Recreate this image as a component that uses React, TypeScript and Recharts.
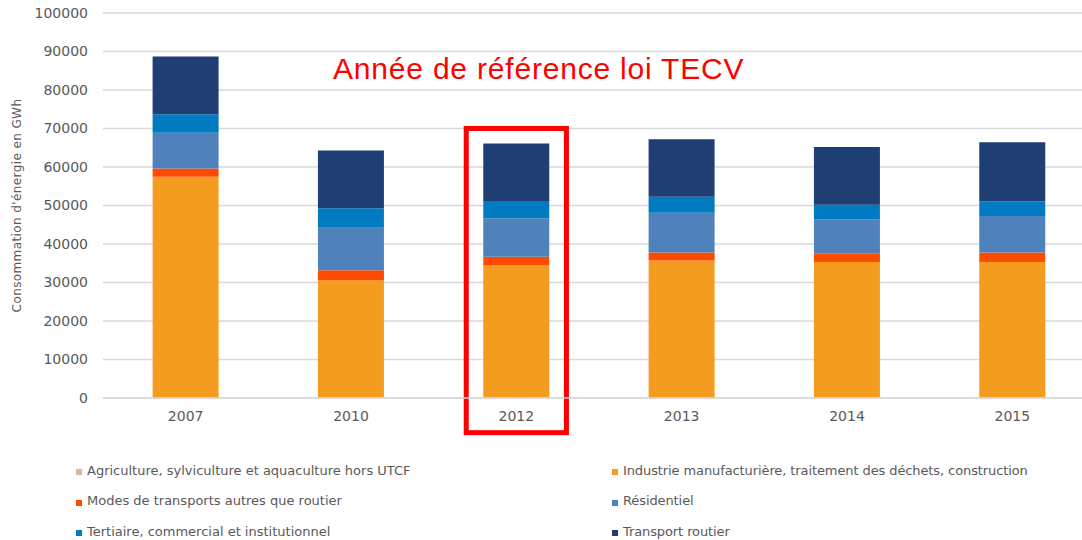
/**
 * Consommation d'énergie par secteur (GWh), barres empilées
 */
import { BarChart, Bar, XAxis, YAxis, CartesianGrid, ReferenceArea, Label } from 'recharts';

const years = ['2007', '2010', '2012', '2013', '2014', '2015'];
const agriculture = [100, 100, 100, 100, 100, 100];
const industrie = [57400, 30500, 34300, 35600, 35200, 35200];
const autresTransports = [2100, 2600, 2300, 2100, 2200, 2500];
const residentiel = [9300, 11000, 10000, 10300, 8900, 9500];
const tertiaire = [4800, 5100, 4500, 4200, 3800, 3800];
const routier = [15000, 15000, 14900, 14900, 15000, 15300];
const yTicks = [0, 10000, 20000, 30000, 40000, 50000, 60000, 70000, 80000, 90000, 100000];

const series = [
  { key: 'agriculture', name: 'Agriculture, sylviculture et aquaculture hors UTCF', color: '#d9b88f', values: agriculture },
  { key: 'industrie', name: 'Industrie manufacturière, traitement des déchets, construction', color: '#f39c1f', values: industrie },
  { key: 'autresTransports', name: 'Modes de transports autres que routier', color: '#ff4b00', values: autresTransports },
  { key: 'residentiel', name: 'Résidentiel', color: '#4f81bd', values: residentiel },
  { key: 'tertiaire', name: 'Tertiaire, commercial et institutionnel', color: '#007bc2', values: tertiaire },
  { key: 'routier', name: 'Transport routier', color: '#1f3e73', values: routier },
];

const data = years.map((year, i) => {
  const row: Record<string, string | number> = { year };
  series.forEach((s) => { row[s.key] = s.values[i]; });
  return row;
});

const grey = '#595959';

// cadre rouge autour de l'année de référence
const RefBox = (props: any) => {
  const { x, y, width, height } = props;
  const inset = width * 0.197;
  return (
    <rect x={x + inset} y={y} width={width - 2 * inset} height={height}
      fill="none" stroke="#ff0000" strokeWidth={5} />
  );
};

export default function App() {
  return (
    <div style={{ position: 'fixed', left: 0, top: 0, width: 1082, height: 540, overflow: 'hidden', background: '#ffffff', fontFamily: '"DejaVu Sans", sans-serif' }}>
      <BarChart width={1100} height={445} data={data} barCategoryGap="30%"
        margin={{ top: 13, right: 5, bottom: 15, left: 0 }}>
        <CartesianGrid vertical={false} stroke="#d9d9d9" strokeWidth={1.5} />
        <XAxis dataKey="year" height={32} tickSize={0} tickMargin={13}
          axisLine={{ stroke: '#d9d9d9', strokeWidth: 1.5 }} tickLine={false}
          tick={{ fill: grey, fontSize: 14 }} />
        <YAxis width={103} domain={[0, 100000]} ticks={yTicks} interval={0}
          axisLine={false} tickLine={false} tickSize={0} tickMargin={15}
          tick={{ fill: grey, fontSize: 14 }}>
          <Label value="Consommation d'énergie en GWh" angle={-90} position="insideLeft" offset={17}
            style={{ textAnchor: 'middle', fontSize: 12, fill: grey, letterSpacing: 0.4 }} />
        </YAxis>
        {series.map((s) => (
          <Bar key={s.key} dataKey={s.key} name={s.name} stackId="a" fill={s.color} isAnimationActive={false} />
        ))}
        <ReferenceArea x1="2012" x2="2012" y1={-9000} y2={70000} ifOverflow="visible" shape={RefBox} />
      </BarChart>
      <div style={{ position: 'absolute', left: 333, top: 52, color: '#ff0000', fontFamily: '"Liberation Sans", Arial, sans-serif', fontSize: 30, letterSpacing: 0.8, whiteSpace: 'nowrap' }}>
        Année de référence loi TECV
      </div>
      <div style={{ position: 'absolute', left: 0, top: 455, width: 1082 }}>
        {series.map((s, i) => (
          <div key={s.key} style={{
            position: 'absolute', left: i % 2 === 0 ? 76 : 612, top: Math.floor(i / 2) * 30.5,
            height: 30, display: 'flex', alignItems: 'center', whiteSpace: 'nowrap',
            fontSize: 13, color: grey, letterSpacing: i % 2 === 0 ? 0 : -0.1,
          }}>
            <span style={{ display: 'inline-block', width: 6, height: 6, background: s.color, marginRight: 5, marginTop: 4 }} />
            {s.name}
          </div>
        ))}
      </div>
    </div>
  );
}
